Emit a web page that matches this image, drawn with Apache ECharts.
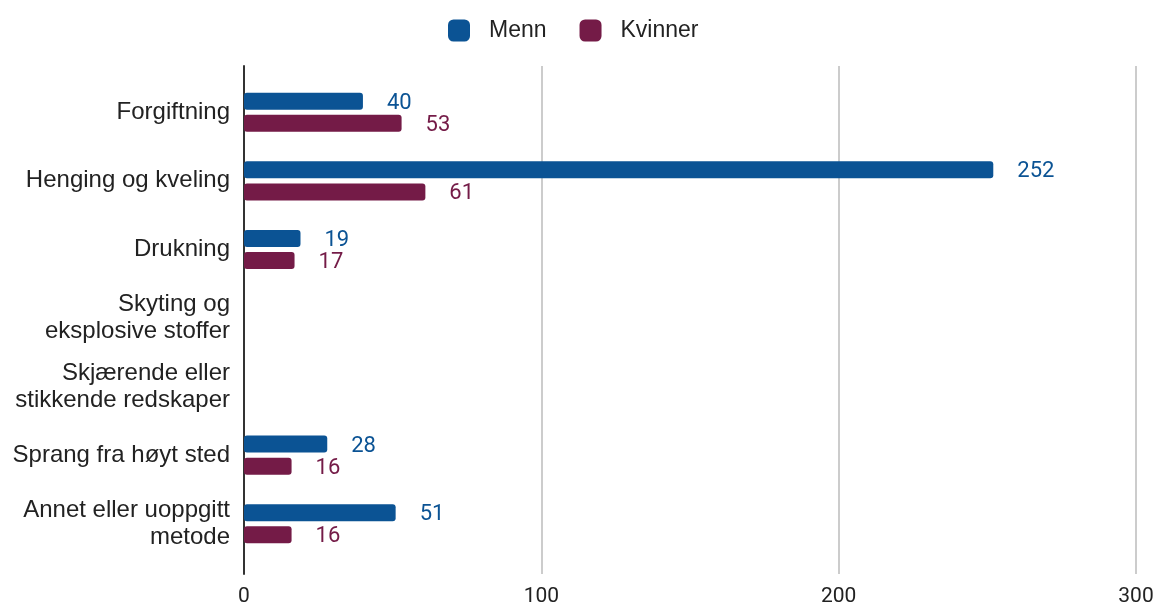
<!DOCTYPE html>
<html>
<head>
<meta charset="utf-8">
<script src="https://cdn.jsdelivr.net/npm/echarts@6/dist/echarts.min.js"></script>
<style>
  html, body { margin: 0; padding: 0; background: #fff; }
  #chart { width: 1157px; height: 607px; }
</style>
</head>
<body>
<div id="chart"></div>
<script>
// data
const categories = [
  'Forgiftning',
  'Henging og kveling',
  'Drukning',
  'Skyting og\neksplosive stoffer',
  'Skjærende eller\nstikkende redskaper',
  'Sprang fra høyt sted',
  'Annet eller uoppgitt\nmetode'
]
const menn = [40, 252, 19, null, null, 28, 51]
const kvinner = [53, 61, 17, null, null, 16, 16]
const xTicks = [0, 100, 200, 300]

const blue = '#0b5394'
const red = '#741b47'
const sans = '"Liberation Sans", Arial, sans-serif'

const chart = echarts.init(document.getElementById('chart'))

const barLabel = color => ({
  show: true,
  position: 'right',
  distance: 24,
  offset: [0, 2],
  color: color,
  fontSize: 22,
  fontFamily: 'Roboto'
})

chart.setOption({
  animation: false,
  legend: {
    top: 14,
    left: 443,
    itemWidth: 22,
    itemHeight: 22,
    itemGap: 33,
    itemStyle: { borderRadius: 2 },
    textStyle: { fontSize: 23, color: '#222', fontFamily: sans, padding: [0, 0, 0, 14] },
    data: ['Menn', 'Kvinner']
  },
  grid: [
    // outer grid: axis line, gridlines and tick labels
    { left: 244, right: 21, top: 66, bottom: 32 },
    // inner grid: bars and category labels
    { left: 244, right: 21, top: 78, bottom: 49 }
  ],
  xAxis: [
    {
      gridIndex: 0,
      type: 'value',
      min: xTicks[0],
      max: xTicks[xTicks.length - 1],
      interval: 100,
      axisLine: { show: false },
      axisTick: { show: false },
      axisLabel: {
        fontSize: 21,
        color: '#222',
        fontFamily: 'Roboto',
        margin: 12
      },
      splitLine: { show: true, lineStyle: { color: '#cccccc', width: 2 } }
    },
    {
      gridIndex: 1,
      type: 'value',
      min: 0,
      max: 300,
      show: false
    }
  ],
  yAxis: [
    {
      gridIndex: 0,
      type: 'category',
      data: categories,
      inverse: true,
      axisLine: { show: true, onZero: false, lineStyle: { color: '#333', width: 2 } },
      axisTick: { show: false },
      axisLabel: { show: false },
      splitLine: { show: false }
    },
    {
      gridIndex: 1,
      type: 'category',
      data: categories,
      inverse: true,
      axisLine: { show: false },
      axisTick: { show: false },
      axisLabel: {
        fontSize: 24,
        color: '#222',
        fontFamily: sans,
        margin: 14,
        lineHeight: 27,
        align: 'right'
      }
    }
  ],
  series: [
    {
      name: 'Menn',
      type: 'bar',
      xAxisIndex: 1,
      yAxisIndex: 1,
      data: menn,
      barWidth: 17,
      barGap: '30%',
      itemStyle: { color: blue, borderRadius: 3 },
      label: barLabel(blue)
    },
    {
      name: 'Kvinner',
      type: 'bar',
      xAxisIndex: 1,
      yAxisIndex: 1,
      data: kvinner,
      barWidth: 17,
      barGap: '30%',
      itemStyle: { color: red, borderRadius: 3 },
      label: barLabel(red)
    }
  ]
})
</script>
</body>
</html>
